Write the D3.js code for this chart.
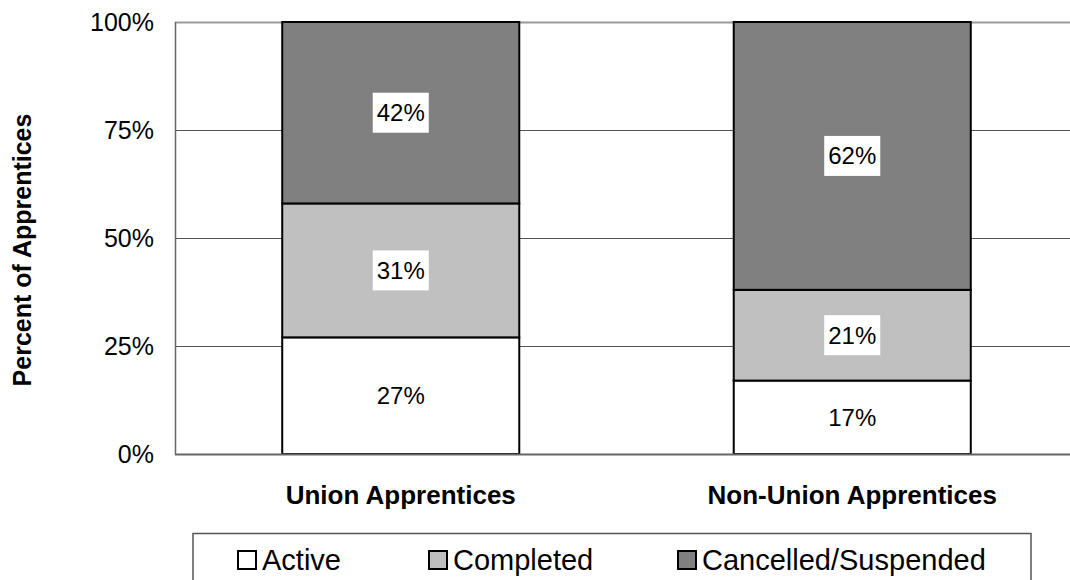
<!DOCTYPE html>
<html>
<head>
<meta charset="utf-8">
<script src="https://cdn.jsdelivr.net/npm/d3@7"></script>
<style>
  html, body { margin: 0; padding: 0; background: #fff; }
  svg { display: block; font-family: Arial, "Liberation Sans", sans-serif; }
</style>
</head>
<body>
<svg id="chart" width="1070" height="580"></svg>
<script>
// ---- data ----
const categories = ["Union Apprentices", "Non-Union Apprentices"];
const seriesNames = ["Active", "Completed", "Cancelled/Suspended"];
const activeValues = [27, 17];
const completedValues = [31, 21];
const cancelledValues = [42, 62];
const yTickValues = [0, 25, 50, 75, 100];
const yTickLabels = ["0%", "25%", "50%", "75%", "100%"];
const seriesColors = ["#ffffff", "#c0c0c0", "#808080"];

// ---- layout ----
const svg = d3.select("#chart");
const plot = { left: 175, top: 22, right: 1078, bottom: 454 };

const x = d3.scaleBand()
  .domain(categories)
  .range([plot.left, plot.right])
  .paddingInner(0.475)
  .paddingOuter(0.2375);

const y = d3.scaleLinear().domain([0, 100]).range([plot.bottom, plot.top]);

const rows = categories.map((c, i) => ({
  category: c,
  "Active": activeValues[i],
  "Completed": completedValues[i],
  "Cancelled/Suspended": cancelledValues[i]
}));
const stacked = d3.stack().keys(seriesNames)(rows);

// gridlines
const grid = svg.append("g");
grid.selectAll("line")
  .data(yTickValues.filter(v => v > 0))
  .join("line")
  .attr("x1", plot.left).attr("x2", 1070)
  .attr("y1", d => Math.round(y(d)) + 0.5).attr("y2", d => Math.round(y(d)) + 0.5)
  .attr("stroke", d => d === 100 ? "#9a9a9a" : "#555")
  .attr("stroke-width", d => d === 100 ? 2 : 1);

// axes lines
svg.append("line")
  .attr("x1", plot.left + 0.5).attr("x2", plot.left + 0.5)
  .attr("y1", plot.top).attr("y2", plot.bottom + 1)
  .attr("stroke", "#666").attr("stroke-width", 1.5);

// y axis tick labels
const yAxis = d3.axisLeft(y)
  .tickValues(yTickValues)
  .tickFormat((d, i) => yTickLabels[i])
  .tickSize(0)
  .tickPadding(21);
const yg = svg.append("g")
  .attr("transform", `translate(${plot.left},0)`)
  .call(yAxis);
yg.select(".domain").remove();
yg.selectAll("text")
  .attr("font-size", 25)
  .attr("font-family", "Arial, 'Liberation Sans', sans-serif")
  .attr("fill", "#000");

// bars
const barG = svg.append("g");
stacked.forEach((layer, si) => {
  barG.selectAll(null)
    .data(layer)
    .join("rect")
    .attr("x", d => x(d.data.category))
    .attr("width", x.bandwidth())
    .attr("y", d => y(d[1]))
    .attr("height", d => y(d[0]) - y(d[1]))
    .attr("fill", seriesColors[si])
    .attr("stroke", "#000")
    .attr("stroke-width", 2);
});

// bottom axis line (on top)
svg.append("line")
  .attr("x1", plot.left).attr("x2", 1070)
  .attr("y1", plot.bottom + 0.5).attr("y2", plot.bottom + 0.5)
  .attr("stroke", "#666").attr("stroke-width", 2);

// value labels
const labG = svg.append("g");
stacked.forEach((layer, si) => {
  layer.forEach(d => {
    const cx = x(d.data.category) + x.bandwidth() / 2;
    const cy = (y(d[0]) + y(d[1])) / 2;
    const g = labG.append("g");
    const t = g.append("text")
      .attr("x", cx).attr("y", cy)
      .attr("text-anchor", "middle")
      .attr("dominant-baseline", "central")
      .attr("font-size", 24)
      .attr("fill", "#000")
      .text(d.data[seriesNames[si]] + "%");
    const bb = t.node().getBBox();
    g.insert("rect", "text")
      .attr("x", cx - bb.width / 2 - 4)
      .attr("y", cy - 20)
      .attr("width", bb.width + 8)
      .attr("height", 40)
      .attr("fill", "#fff");
  });
});

// x category labels
svg.append("g").selectAll("text")
  .data(categories)
  .join("text")
  .attr("x", d => x(d) + x.bandwidth() / 2)
  .attr("y", 504)
  .attr("text-anchor", "middle")
  .attr("font-size", 26)
  .attr("font-weight", "bold")
  .text(d => d);

// y axis title
svg.append("text")
  .attr("transform", "translate(31,250) rotate(-90)")
  .attr("text-anchor", "middle")
  .attr("font-size", 25)
  .attr("font-weight", "bold")
  .text("Percent of Apprentices");

// legend
const lg = svg.append("g");
lg.append("rect")
  .attr("x", 193).attr("y", 533.5)
  .attr("width", 838).attr("height", 60)
  .attr("fill", "#fff").attr("stroke", "#555").attr("stroke-width", 1.5);
const legendX = [238, 429, 678];
seriesNames.forEach((name, i) => {
  lg.append("rect")
    .attr("x", legendX[i]).attr("y", 551)
    .attr("width", 18).attr("height", 18)
    .attr("fill", seriesColors[i])
    .attr("stroke", "#000").attr("stroke-width", 2);
  lg.append("text")
    .attr("x", legendX[i] + 24).attr("y", 569.5)
    .attr("font-size", 29)
    .text(name);
});
</script>
</body>
</html>
